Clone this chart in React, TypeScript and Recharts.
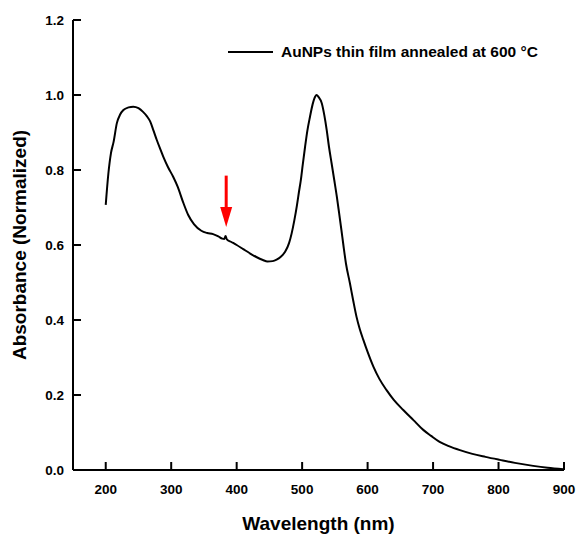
import { LineChart, Line, XAxis, YAxis, ReferenceLine, Legend } from 'recharts';

// absorbance spectrum
const wavelength = [
  200, 204, 208, 212, 217, 222, 227, 235, 242, 250, 257, 263, 268, 273, 278, 283, 288, 295, 303, 310,
  318, 326, 335, 346, 355, 364, 372, 378, 381, 383, 385, 392, 400, 410, 420, 430, 440, 447, 455, 461,
  467, 474, 480, 484, 488, 492, 495, 498, 501, 504.5, 508, 512, 516, 520, 522, 525, 530, 534, 537.5, 541,
  545, 549, 553, 556.5, 560, 563, 567, 573, 578, 583, 588, 593.5, 600, 609, 618, 629, 640, 654.5, 670, 685,
  697, 710, 725, 741, 760, 780, 802, 825, 853, 875, 899,
];
const absorbance = [
  0.707, 0.79, 0.845, 0.875, 0.925, 0.948, 0.96, 0.967, 0.969, 0.965, 0.955, 0.943, 0.929, 0.905, 0.88, 0.857, 0.835, 0.808, 0.782, 0.755,
  0.715, 0.68, 0.655, 0.638, 0.632, 0.629, 0.623, 0.617, 0.616, 0.624, 0.615, 0.608, 0.6, 0.589, 0.578, 0.568, 0.56, 0.556, 0.557, 0.561,
  0.568, 0.582, 0.605, 0.631, 0.665, 0.705, 0.74, 0.773, 0.815, 0.862, 0.905, 0.942, 0.975, 0.996, 1.0, 0.995, 0.978, 0.945, 0.907, 0.862,
  0.818, 0.774, 0.729, 0.685, 0.64, 0.6, 0.55, 0.498, 0.452, 0.409, 0.376, 0.347, 0.315, 0.275, 0.243, 0.213, 0.187, 0.16, 0.133, 0.107,
  0.091, 0.075, 0.063, 0.053, 0.043, 0.035, 0.027, 0.019, 0.011, 0.006, 0.002,
];

const xMajorTicks = [200, 300, 400, 500, 600, 700, 800, 900];
const xMinorTicks = [250, 350, 450, 550, 650, 750, 850];
const yMajorTicks = [0, 0.2, 0.4, 0.6, 0.8, 1.0, 1.2];
const yMinorTicks = [0.1, 0.3, 0.5, 0.7, 0.9, 1.1];

const seriesName = 'AuNPs thin film annealed at 600 °C';
const xTitle = 'Wavelength (nm)';
const yTitle = 'Absorbance (Normalized)';

// red arrow marking the shoulder
const arrowWavelength = 384;
const arrowFrom = 0.785;
const arrowTo = 0.648;

const data = wavelength.map((wl, i) => ({ wl, abs: absorbance[i] }));

const FONT = '"Liberation Sans", Arial, Helvetica, sans-serif';
const MAJOR_LEN = 8;
const MINOR_LEN = 5;
const frame = { stroke: '#000', strokeWidth: 2 };
const tickFont = { fill: '#000', fontSize: 13.5, fontWeight: 'bold', fontFamily: FONT };
const noLabel = () => <g />;

const XTitle = (props: any) => {
  const vb = props.viewBox;
  return (
    <text x={vb.x + vb.width / 2} y={vb.y + 60} textAnchor="middle" fontSize={19} fontWeight="bold" fontFamily={FONT} fill="#000">
      {xTitle}
    </text>
  );
};

const YTitle = (props: any) => {
  const vb = props.viewBox;
  const cy = vb.y + vb.height / 2;
  return (
    <text x={26} y={cy} transform={`rotate(-90, 26, ${cy})`} textAnchor="middle" fontSize={19} fontWeight="bold" fontFamily={FONT} fill="#000">
      {yTitle}
    </text>
  );
};

const ArrowShape = (props: any) => {
  const { x1, y1, y2 } = props;
  const head = 20;
  return (
    <g>
      <line x1={x1} x2={x1} y1={y1} y2={y2 - head + 2} stroke="#ff0000" strokeWidth={3} />
      <polygon points={`${x1 - 6},${y2 - head} ${x1 + 6},${y2 - head} ${x1},${y2}`} fill="#ff0000" />
    </g>
  );
};

const LegendContent = () => (
  <div style={{ display: 'flex', alignItems: 'center', fontFamily: FONT, fontWeight: 'bold', fontSize: 15.5, lineHeight: '18px', whiteSpace: 'nowrap' }}>
    <svg width={47} height={4} style={{ display: 'block' }}>
      <line x1={1} x2={46} y1={2} y2={2} stroke="#000" strokeWidth={2} />
    </svg>
    <span style={{ marginLeft: 7 }}>{seriesName}</span>
  </div>
);

export default function App() {
  return (
    <div style={{ position: 'absolute', left: 0, top: 0, background: '#fff' }}>
      <LineChart width={578} height={534} data={data} margin={{ top: 20, right: 14, bottom: 0, left: 0 }}>
        {/* minor ticks first so they sit on the frame, zero size */}
        <XAxis xAxisId="xMinor" type="number" domain={[150, 900]} allowDataOverflow ticks={xMinorTicks} interval={0}
          height={0} tickSize={-MINOR_LEN} tickLine={frame} tick={noLabel} axisLine={false} />
        <XAxis
          dataKey="wl"
          type="number"
          domain={[150, 900]}
          ticks={xMajorTicks}
          interval={0}
          height={64}
          tickSize={-MAJOR_LEN}
          tickMargin={22}
          stroke="#000"
          tickLine={frame}
          tick={tickFont}
          axisLine={frame}
          label={<XTitle />}
        />
        <XAxis xAxisId="topMinor" orientation="top" type="number" domain={[150, 900]} allowDataOverflow ticks={xMinorTicks} interval={0}
          height={0} tickSize={-MINOR_LEN} tickLine={frame} tick={noLabel} axisLine={false} />
        <XAxis xAxisId="top" orientation="top" type="number" domain={[150, 900]} allowDataOverflow ticks={xMajorTicks} interval={0}
          height={0} tickSize={-MAJOR_LEN} tickLine={frame} tick={noLabel} axisLine={frame} />

        <YAxis yAxisId="yMinor" type="number" domain={[0, 1.2]} allowDataOverflow ticks={yMinorTicks} interval={0}
          width={0} tickSize={-MINOR_LEN} tickLine={frame} tick={noLabel} axisLine={false} />
        <YAxis
          type="number"
          domain={[0, 1.2]}
          ticks={yMajorTicks}
          interval={0}
          width={73}
          tickSize={-MAJOR_LEN}
          tickMargin={17}
          tickFormatter={(v: number) => v.toFixed(1)}
          stroke="#000"
          tickLine={frame}
          tick={tickFont}
          axisLine={frame}
          label={<YTitle />}
        />
        <YAxis yAxisId="rightMinor" orientation="right" type="number" domain={[0, 1.2]} allowDataOverflow ticks={yMinorTicks} interval={0}
          width={0} tickSize={-MINOR_LEN} tickLine={frame} tick={noLabel} axisLine={false} />
        <YAxis yAxisId="right" orientation="right" type="number" domain={[0, 1.2]} allowDataOverflow ticks={yMajorTicks} interval={0}
          width={0} tickSize={-MAJOR_LEN} tickLine={frame} tick={noLabel} axisLine={frame} />

        <Legend
          layout="horizontal"
          verticalAlign="middle"
          align="center"
          content={<LegendContent />}
          wrapperStyle={{ position: 'absolute', left: 227, top: 43, width: 'auto', height: 'auto' }}
        />
        <Line
          type="monotone"
          dataKey="abs"
          name={seriesName}
          stroke="#000"
          strokeWidth={2}
          dot={false}
          activeDot={false}
          isAnimationActive={false}
        />
        <ReferenceLine
          segment={[
            { x: arrowWavelength, y: arrowFrom },
            { x: arrowWavelength, y: arrowTo },
          ]}
          shape={<ArrowShape />}
          ifOverflow="visible"
        />
      </LineChart>
    </div>
  );
}
